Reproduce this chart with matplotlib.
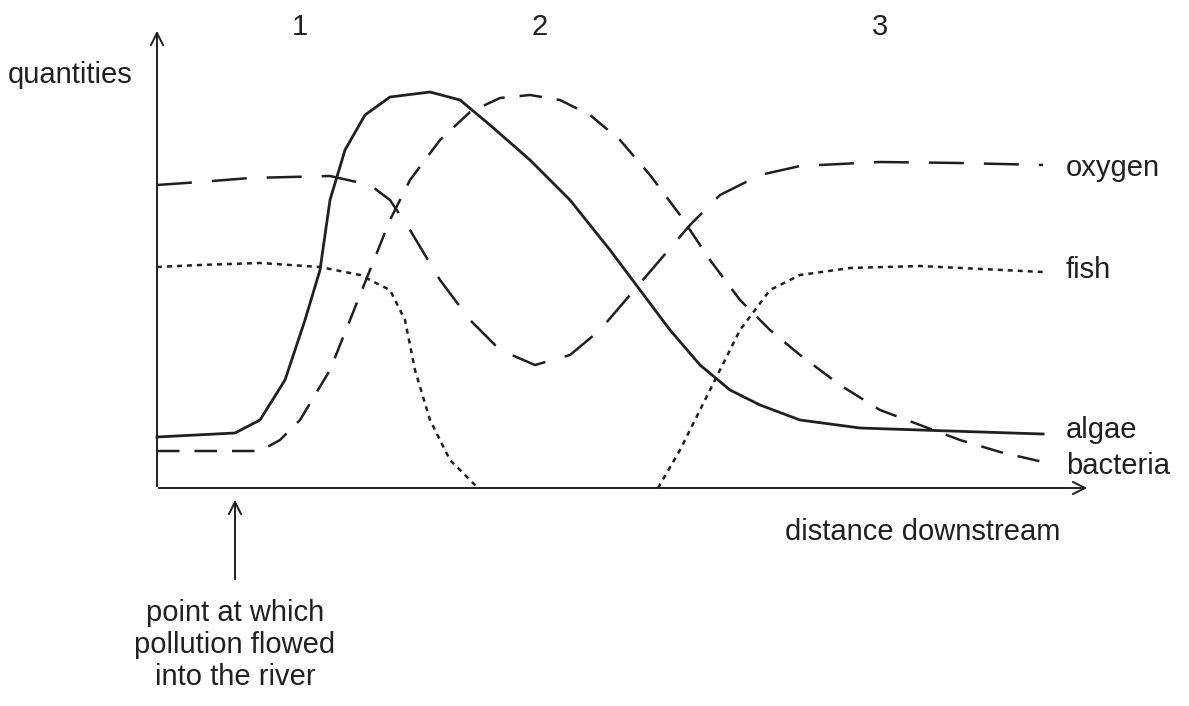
import matplotlib
matplotlib.use("Agg")
import matplotlib.pyplot as plt

H = 706
algae_x = [157,235,260,285,305,320,330,345,365,390,430,460,490,530,570,610,640,670,700,730,760,800,860,950,1043]
algae_y = [437,433,420,380,320,270,200,150,115,97,92,100,125,160,200,250,290,330,365,390,405,420,428,431,434]
bact_x = [157,260,280,300,330,350,370,390,410,440,470,500,530,560,590,620,650,680,710,740,770,800,840,880,920,960,1000,1043]
bact_y = [451,451,440,420,370,320,270,220,180,140,112,98,95,100,115,140,175,215,260,300,330,355,385,410,425,440,452,462]
oxy_x = [157,200,250,330,370,390,410,440,470,500,535,570,600,630,660,690,720,760,800,880,960,1043]
oxy_y = [185,182,178,176,185,200,230,280,320,350,365,355,330,295,260,225,195,175,166,162,163,165]
fish1_x = [157,200,260,320,360,390,405,415,430,450,478]
fish1_y = [267,265,263,267,275,290,320,370,420,460,488]
fish2_x = [658,680,710,740,770,800,850,920,1043]
fish2_y = [488,450,390,330,290,275,268,266,272]

plt.rcParams['font.family'] = ['Liberation Sans', 'DejaVu Sans']
fig = plt.figure(figsize=(11.89, 7.06), dpi=100)
ax = fig.add_axes([0, 0, 1, 1])
ax.set_xlim(0, 1189); ax.set_ylim(0, H); ax.axis('off')
f = lambda ys: [H - y for y in ys]

c = '#231f20'
ax.plot(algae_x, f(algae_y), color=c, lw=2.0)
ax.plot(bact_x, f(bact_y), color=c, lw=1.8, dashes=(9, 6))
ax.plot(oxy_x, f(oxy_y), color=c, lw=1.8, dashes=(14, 8))
ax.plot(fish1_x, f(fish1_y), color=c, lw=1.8, dashes=(2, 2))
ax.plot(fish2_x, f(fish2_y), color=c, lw=1.8, dashes=(2, 2))

ap = dict(arrowstyle='->', color=c, lw=1.4, mutation_scale=22)
ax.annotate('', xy=(1090, H-488), xytext=(156, H-488), arrowprops=ap)
ax.annotate('', xy=(157, H-28), xytext=(157, H-489), arrowprops=ap)
ax.annotate('', xy=(235, H-497), xytext=(235, H-582), arrowprops=ap)

fs = 21
kw = dict(fontsize=fs, color=c)
ax.text(8, H-75, 'quantities', va='center', ha='left', **kw)
for t, x in [('1', 300), ('2', 540), ('3', 880)]:
    ax.text(x, H-27, t, ha='center', va='center', **kw)
for t, y in [('oxygen', 168), ('fish', 270), ('algae', 430), ('bacteria', 466)]:
    ax.text(1066, H-y, t, ha='left', va='center', **kw)
ax.text(785, H-532, 'distance downstream', ha='left', va='center', **kw)
ax.text(235, H-645, 'point at which\npollution flowed\ninto the river', ha='center',
        va='center', linespacing=1.2, **kw)
fig.savefig('out.png', dpi=100)
